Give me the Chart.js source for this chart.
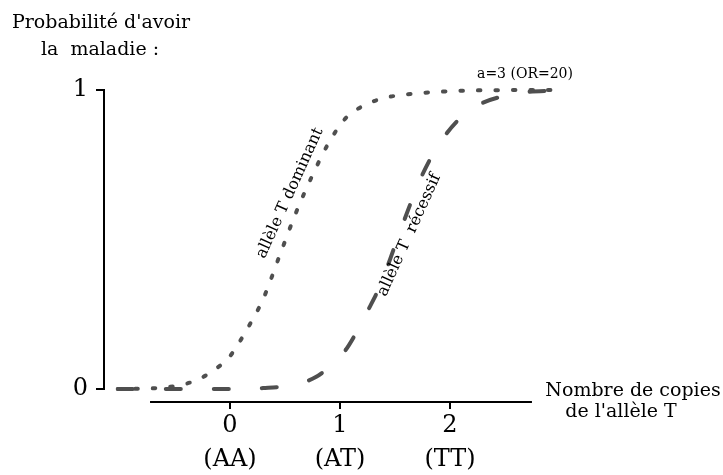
<!DOCTYPE html>
<html><head><meta charset="utf-8">
<script src="https://cdn.jsdelivr.net/npm/chart.js@4/dist/chart.umd.min.js"></script>
<style>html,body{margin:0;padding:0;background:#fff;} #wrap{width:723px;height:475px;}</style>
</head><body><div id="wrap"><canvas id="c" width="723" height="475"></canvas></div>
<script>
// ---- data ----
const dominantX = [-1.02, -0.8, -0.6, -0.45, -0.3, -0.15, 0, 0.15, 0.3, 0.45, 0.6, 0.75, 0.9, 1.05, 1.2, 1.4, 1.6, 1.9, 2.3, 3.02];
const dominantY = [0, 0.001, 0.005, 0.013, 0.03, 0.062, 0.11, 0.197, 0.3, 0.445, 0.59, 0.715, 0.825, 0.905, 0.945, 0.973, 0.985, 0.994, 0.999, 1.0];
const recessiveX = [-1.02, -0.5, 0, 0.3, 0.55, 0.78, 0.95, 1.05, 1.15, 1.25, 1.37, 1.5, 1.62, 1.74, 1.92, 2.17, 2.55, 3.02];
const recessiveY = [0, 0, 0, 0.003, 0.012, 0.04, 0.09, 0.13, 0.19, 0.26, 0.35, 0.48, 0.6, 0.71, 0.83, 0.93, 0.985, 1.0];
const xTickValues = [0, 1, 2];
const xTickLabels = ['0', '1', '2'];
const xTickGenotypes = ['(AA)', '(AT)', '(TT)'];
const yTickValues = [0, 1];
const yTickLabels = ['0', '1'];
const seriesNames = ['allèle T dominant', 'allèle T  récessif'];
const yAxisTitle = ["Probabilité d'avoir", 'la  maladie :'];
const xAxisTitle = ['Nombre de copies', "de l'allèle T"];
const noteText = 'a=3 (OR=20)';

const FONT = "'DejaVu Serif', serif";
const LINE_COLOR = '#4f4f4f';

const toPoints = (xs, ys) => xs.map((x, i) => ({x: x, y: ys[i]}));

const decor = {
  id: 'decor',
  afterDraw(chart) {
    const ctx = chart.ctx;
    const xs = chart.scales.x, ys = chart.scales.y;
    ctx.save();
    // partial x-axis spine
    const yAxisPix = ys.getPixelForValue(-0.0435);
    ctx.strokeStyle = '#000';
    ctx.lineWidth = 2;
    ctx.beginPath();
    ctx.moveTo(xs.getPixelForValue(-0.727), yAxisPix);
    ctx.lineTo(xs.getPixelForValue(2.745), yAxisPix);
    ctx.stroke();

    ctx.fillStyle = '#000';
    ctx.textAlign = 'center';
    ctx.textBaseline = 'alphabetic';
    ctx.font = '19px ' + FONT;
    ctx.fillText(yAxisTitle[0], 101, 28);
    ctx.fillText(yAxisTitle[1], 100, 55);
    ctx.fillText(xAxisTitle[0], 633, 396);
    ctx.fillText(xAxisTitle[1], 621, 417);

    ctx.font = '14px ' + FONT;
    ctx.fillText(noteText, 525, 78);

    // rotated series labels
    ctx.font = '16px ' + FONT;
    ctx.textBaseline = 'middle';
    const labels = [[seriesNames[0], 0.545, 0.655], [seriesNames[1], 1.63, 0.515]];
    labels.forEach(([t, vx, vy]) => {
      ctx.save();
      ctx.translate(xs.getPixelForValue(vx), ys.getPixelForValue(vy));
      ctx.rotate(-65.6 * Math.PI / 180);
      ctx.fillText(t, 0, 0);
      ctx.restore();
    });
    ctx.restore();
  }
};

new Chart(document.getElementById('c'), {
  type: 'line',
  data: {
    datasets: [
      {
        label: seriesNames[0],
        data: toPoints(dominantX, dominantY),
        borderColor: LINE_COLOR,
        borderWidth: 4,
        borderDash: [2.5, 15],
        borderCapStyle: 'round',
        pointRadius: 0,
        fill: false,
        cubicInterpolationMode: 'monotone',
        clip: false
      },
      {
        label: seriesNames[1],
        data: toPoints(recessiveX, recessiveY),
        borderColor: LINE_COLOR,
        borderWidth: 4,
        borderDash: [15, 33],
        borderCapStyle: 'round',
        pointRadius: 0,
        fill: false,
        cubicInterpolationMode: 'monotone',
        clip: false
      }
    ]
  },
  options: {
    responsive: false,
    animation: false,
    devicePixelRatio: 1,
    layout: {padding: {left: 54, right: 152, top: 90, bottom: 86}},
    plugins: {legend: {display: false}, tooltip: {enabled: false}},
    scales: {
      x: {
        type: 'linear',
        min: -1.1455,
        max: 3.1,
        position: {y: -0.0435},
        afterBuildTicks: (s) => { s.ticks = xTickValues.map(v => ({value: v})); },
        ticks: {
          callback: (v) => {
            const i = xTickValues.indexOf(v);
            return i >= 0 ? [xTickLabels[i], xTickGenotypes[i]] : '';
          },
          font: {family: FONT, size: 24, lineHeight: 1.4167},
          color: '#000',
          padding: 0,
          maxRotation: 0,
          autoSkip: false
        },
        grid: {display: true, drawOnChartArea: false, drawTicks: true, tickLength: 7, color: '#000', lineWidth: 2},
        border: {display: false}
      },
      y: {
        type: 'linear',
        min: 0,
        max: 1,
        position: 'left',
        afterBuildTicks: (s) => { s.ticks = yTickValues.map(v => ({value: v})); },
        afterFit: (s) => { s.width = 50; },
        ticks: {
          callback: (v) => {
            const i = yTickValues.indexOf(v);
            return i >= 0 ? yTickLabels[i] : '';
          },
          font: {family: FONT, size: 24},
          color: '#000',
          padding: 8
        },
        grid: {display: true, drawOnChartArea: false, drawTicks: true, tickLength: 8, color: '#000', lineWidth: 2},
        border: {display: true, color: '#000', width: 2}
      }
    }
  },
  plugins: [decor]
});
</script>
</body></html>
